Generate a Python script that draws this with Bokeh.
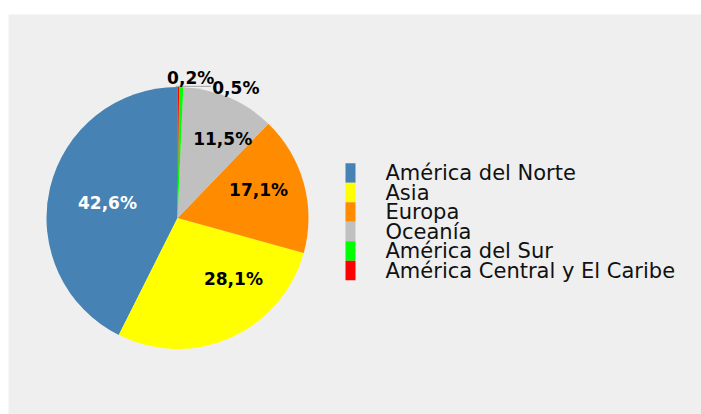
import math
from bokeh.plotting import figure
from bokeh.models import ColumnDataSource, Spacer
from bokeh.layouts import column, row
from bokeh.core.properties import value
from bokeh.embed import file_html
from bokeh.resources import INLINE

# ---- data ----
regions = ["América del Norte", "Asia", "Europa", "Oceanía",
           "América del Sur", "América Central y El Caribe"]
shares = [42.6, 28.1, 17.1, 11.5, 0.5, 0.2]
colors = ["#4682b4", "#ffff00", "#ff8c00", "#c0c0c0", "#00ff00", "#ff0000"]
label_colors = ["white", "black", "black", "black", "black", "black"]

# ---- layout (data units == pixels inside the figure) ----
W, H = 693, 400
CX, CY, R = 169, H - 203.5, 131
label_r = [71.5, 82.4, 85.9, 91.4, 142.8, 141.0]
label_nudge_deg = [1.6, 18.8, 4.0, -6.4, -22.5, -5.0]

total = sum(shares)
starts, ends, lx, ly, labels = [], [], [], [], []
a = math.pi / 2
for i, s in enumerate(shares):
    span = 2 * math.pi * s / total
    starts.append(a)
    ends.append(a + span)
    mid = a + span / 2 + math.radians(label_nudge_deg[i])
    lx.append(CX + label_r[i] * math.cos(mid))
    ly.append(CY + label_r[i] * math.sin(mid))
    labels.append(f"{s:.1f}".replace(".", ",") + "%")
    a += span

src = ColumnDataSource(dict(start=starts, end=ends, color=colors, region=regions,
                            lx=lx, ly=ly, label=labels, lcolor=label_colors))

p = figure(width=W, height=H, x_range=(0, W), y_range=(0, H),
           output_backend="svg", toolbar_location=None,
           x_axis_location=None, y_axis_location=None,
           min_border=0, background_fill_color="#efefef",
           border_fill_color="#efefef", outline_line_color=None)
p.grid.visible = False

p.wedge(x=CX, y=CY, radius=R, start_angle="start", end_angle="end",
        fill_color="color", line_color=None, source=src)

# leader line under the small label
i_small = len(shares) - 1
p.segment(x0=[lx[i_small] - 15], y0=[ly[i_small] - 8.7],
          x1=[lx[i_small] + 20], y1=[ly[i_small] - 8.7],
          line_color="#a0a0a0", line_width=1)

p.text(x="lx", y="ly", text="label", text_color="lcolor", source=src,
       text_font=value("DejaVu Sans"), text_font_style="bold",
       text_font_size="17px", text_align="center", text_baseline="middle")

# legend drawn as glyphs
LX0, LY0, ROW = 337, H - 158.5, 19.5
leg = ColumnDataSource(dict(
    x=[LX0 + 5] * len(regions),
    y=[LY0 - ROW * i for i in range(len(regions))],
    tx=[LX0 + 40] * len(regions),
    color=colors, region=regions))
p.rect(x="x", y="y", width=10, height=ROW, fill_color="color",
       line_color=None, source=leg)
p.text(x="tx", y="y", text="region", source=leg,
       text_font=value("DejaVu Sans"), text_font_size="21px",
       text_color="#111111", text_baseline="middle", text_align="left")

layout = row(Spacer(width=8), column(Spacer(height=14), p))
open("out.html", "w").write(file_html(layout, INLINE))
